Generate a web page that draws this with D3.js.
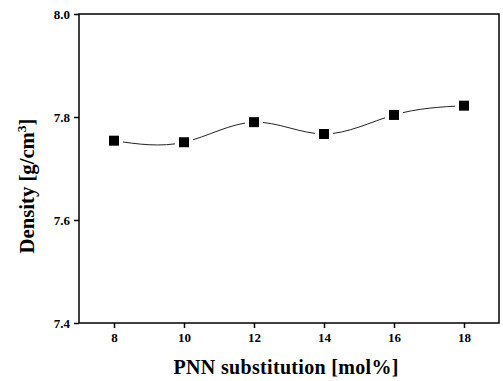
<!DOCTYPE html>
<html>
<head>
<meta charset="utf-8">
<script src="https://cdn.jsdelivr.net/npm/d3@7"></script>
<style>
  body { margin: 0; background: #fff; }
  text { font-family: "Liberation Serif", "Times New Roman", serif; font-weight: bold; }
</style>
</head>
<body>
<svg id="chart"></svg>
<script>
const substitution = [8, 10, 12, 14, 16, 18];
const density = [7.754, 7.751, 7.790, 7.767, 7.804, 7.822];
const xTicks = [8, 10, 12, 14, 16, 18];
const yTicks = [7.4, 7.6, 7.8, 8.0];

const width = 503;
const height = 381;
const margin = { top: 14, right: 4, bottom: 58, left: 79 };

const svg = d3.select("#chart")
    .attr("width", width)
    .attr("height", height);

const x = d3.scaleLinear()
    .domain([7, 19])
    .range([margin.left, width - margin.right]);

const y = d3.scaleLinear()
    .domain([7.4, 8.0])
    .range([height - margin.bottom, margin.top]);

// frame
svg.append("rect")
    .attr("x", margin.left)
    .attr("y", margin.top)
    .attr("width", width - margin.right - margin.left)
    .attr("height", height - margin.bottom - margin.top)
    .attr("fill", "none")
    .attr("stroke", "#000")
    .attr("stroke-width", 1.5);

// x axis
const xAxis = svg.append("g")
    .attr("transform", `translate(0, ${height - margin.bottom})`);
xAxis.call(d3.axisBottom(x).tickValues(d3.range(9, 19, 2)).tickSize(3).tickFormat(""));
xAxis.call(d3.axisBottom(x).tickValues(xTicks).tickSize(5).tickPadding(5).tickFormat(d3.format("d")));
xAxis.selectAll(".domain").remove();
xAxis.selectAll("line").attr("stroke-width", 1.5);
xAxis.selectAll("text").attr("font-size", 13).attr("font-family", "Liberation Serif").attr("font-weight", "bold");

// y axis
const yAxis = svg.append("g")
    .attr("transform", `translate(${margin.left}, 0)`);
yAxis.call(d3.axisLeft(y).tickValues([7.5, 7.7, 7.9]).tickSize(3).tickFormat(""));
yAxis.call(d3.axisLeft(y).tickValues(yTicks).tickSize(5).tickPadding(4).tickFormat(d3.format(".1f")));
yAxis.selectAll(".domain").remove();
yAxis.selectAll("line").attr("stroke-width", 1.5);
yAxis.selectAll("text").attr("font-size", 13).attr("font-family", "Liberation Serif").attr("font-weight", "bold");

// smooth curve
const pts = substitution.map((s, i) => [s, density[i]]);
const line = d3.line()
    .x(d => x(d[0]))
    .y(d => y(d[1]))
    .curve(d3.curveNatural);

svg.append("path")
    .datum(pts)
    .attr("d", line)
    .attr("fill", "none")
    .attr("stroke", "#222")
    .attr("stroke-width", 1);

// square markers with white halo for the gap
svg.selectAll(".pt")
    .data(pts)
    .enter().append("rect")
    .attr("class", "pt")
    .attr("x", d => x(d[0]) - 5)
    .attr("y", d => y(d[1]) - 5)
    .attr("width", 10)
    .attr("height", 10)
    .attr("fill", "#000")
    .attr("stroke", "#fff")
    .attr("stroke-width", 8)
    .attr("paint-order", "stroke");

// titles
svg.append("text")
    .attr("x", 286)
    .attr("y", 374)
    .attr("text-anchor", "middle")
    .attr("font-size", 20)
    .attr("textLength", 225)
    .text("PNN substitution [mol%]");

const yt = svg.append("text")
    .attr("transform", `translate(34, 186) rotate(-90)`)
    .attr("text-anchor", "middle")
    .attr("font-size", 20)
    .attr("textLength", 135)
    .attr("lengthAdjust", "spacingAndGlyphs");
yt.append("tspan").text("Density [g/cm");
yt.append("tspan").attr("dy", -8).attr("font-size", 13).text("3");
yt.append("tspan").attr("dy", 8).text("]");
</script>
</body>
</html>
